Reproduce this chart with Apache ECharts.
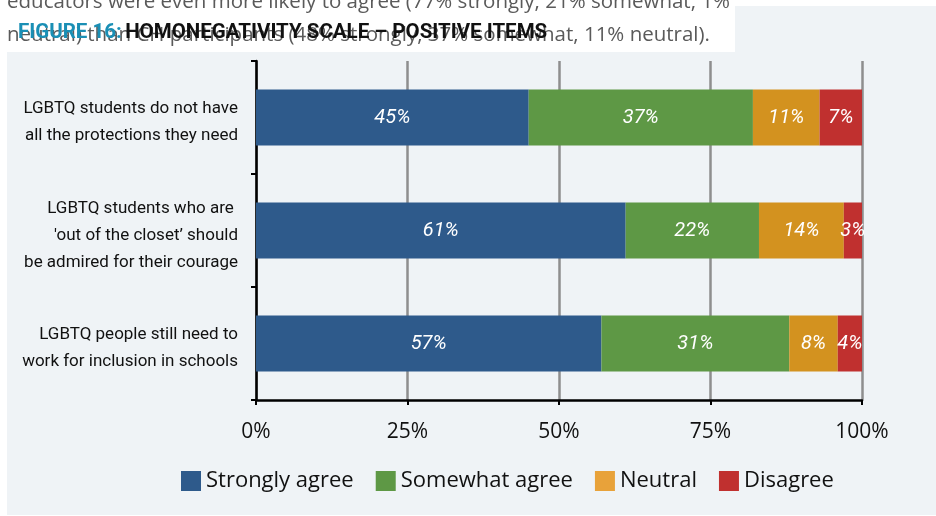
<!DOCTYPE html>
<html>
<head>
<meta charset="utf-8">
<script src="https://cdn.jsdelivr.net/npm/echarts@6/dist/echarts.min.js"></script>
<style>
html,body{margin:0;padding:0;background:#ffffff;}
#chart{width:936px;height:516px;}
</style>
</head>
<body>
<div id="chart"></div>
<script>
const categories = [
  "LGBTQ students do not have\nall the protections they need",
  "LGBTQ students who are \n'out of the closet\u2019 should\nbe admired for their courage",
  "LGBTQ people still need to\nwork for inclusion in schools"
];
const seriesNames = ["Strongly agree", "Somewhat agree", "Neutral", "Disagree"];
const stronglyAgree = [45, 61, 57];
const somewhatAgree = [37, 22, 31];
const neutral = [11, 14, 8];
const disagree = [7, 3, 4];
const xTicks = [0, 25, 50, 75, 100];

const barColors = ["#2e5a8b", "#5e9845", "#d3921f", "#c0302f"];
const legendColors = ["#2e5a8b", "#5e9845", "#e8a23a", "#c0302f"];
const values = [stronglyAgree, somewhatAgree, neutral, disagree];

const narrow = "Roboto,'Noto Sans',sans-serif";
const body = "'Open Sans','Noto Sans',sans-serif";

const chart = echarts.init(document.getElementById('chart'), null, {renderer: 'canvas'});
chart.setOption({
  backgroundColor: '#ffffff',
  animation: false,
  graphic: [
    {type: 'rect', left: 7, top: 6, shape: {width: 929, height: 509}, style: {fill: '#eff3f6'}, z: -10, silent: true},
    {type: 'rect', left: 0, top: 0, shape: {width: 735, height: 52}, style: {fill: '#ffffff'}, z: -9, silent: true},
    {type: 'text', left: 7, top: -8, style: {text: 'educators were even more likely to agree (77% strongly, 21% somewhat, 1%', fill: '#5a5a5a', font: '20.5px ' + body}, z: -8},
    {type: 'text', left: 7, top: 25, style: {text: 'neutral) than CH participants (48% strongly, 37% somewhat, 11% neutral).', fill: '#5a5a5a', font: '20.5px ' + body}, z: -8},
    {type: 'text', left: 18, top: 22, style: {
      text: '{a|FIGURE 16:} {b|HOMONEGATIVITY SCALE \u2013 POSITIVE ITEMS}',
      rich: {
        a: {fill: '#1a8fb5', font: 'bold 20.5px ' + narrow},
        b: {fill: '#111111', font: 'bold 20.5px ' + narrow}
      }
    }, z: -7}
  ],
  legend: {
    bottom: 19,
    left: 176,
    itemWidth: 20,
    itemHeight: 20,
    itemGap: 22,
    icon: 'rect',
    textStyle: {fontSize: 22, color: '#111', fontFamily: body},
    data: seriesNames.map((n, i) => ({name: n, itemStyle: {color: legendColors[i]}}))
  },
  grid: {left: 256, right: 74, top: 61, bottom: 116, outerBoundsMode: 'none'},
  xAxis: {
    type: 'value',
    min: xTicks[0],
    max: xTicks[xTicks.length - 1],
    interval: xTicks[1] - xTicks[0],
    axisLine: {show: true, lineStyle: {color: '#000', width: 2.5}},
    axisTick: {show: true, length: 5, lineStyle: {color: '#000', width: 2}},
    axisLabel: {formatter: '{value}%', fontSize: 21, color: '#111', fontFamily: body, margin: 22},
    splitLine: {show: true, lineStyle: {color: '#8e8e8e', width: 2.5}}
  },
  yAxis: {
    type: 'category',
    inverse: true,
    data: categories,
    axisLine: {show: true, lineStyle: {color: '#000', width: 2.5}},
    axisTick: {show: true, length: 5, lineStyle: {color: '#000', width: 2}},
    axisLabel: {
      fontSize: 17, color: '#111', fontFamily: narrow, margin: 18, lineHeight: 27, align: 'right',
      formatter: v => '{s|}\n' + v,
      rich: {s: {lineHeight: 10, fontSize: 1}}
    }
  },
  series: seriesNames.map((n, i) => ({
    name: n,
    type: 'bar',
    stack: 'total',
    barWidth: 56,
    data: values[i],
    itemStyle: {color: barColors[i]},
    label: {
      show: true,
      position: 'inside',
      formatter: '{c}%',
      color: '#ffffff',
      fontSize: 20,
      fontStyle: 'italic',
      fontFamily: narrow
    }
  }))
});
</script>
</body>
</html>
